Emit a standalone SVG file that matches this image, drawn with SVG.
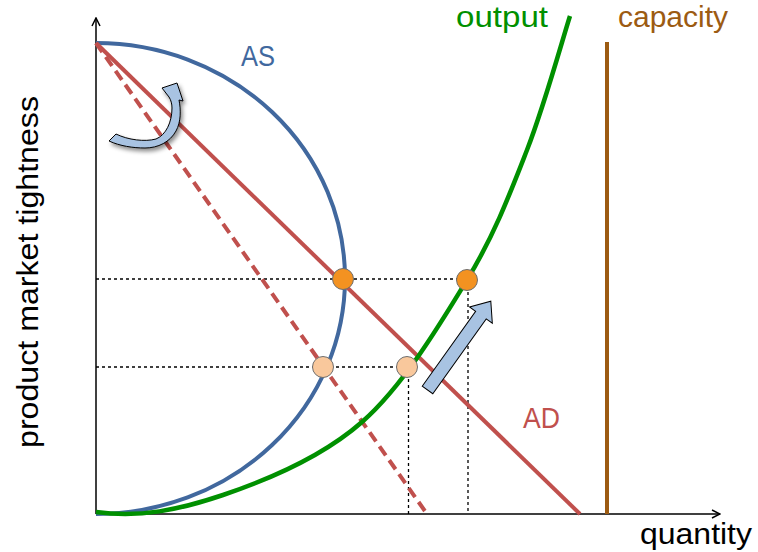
<svg xmlns="http://www.w3.org/2000/svg" width="758" height="552" viewBox="0 0 758 552">
<style>
.lbl{font-family:"Liberation Sans",Arial,sans-serif;font-size:29px}
.axis{stroke:#000;stroke-width:1.5;fill:none}
.dot{stroke:#000;stroke-width:1.3;stroke-dasharray:3 3;fill:none}
.pt{stroke:#6e6e6e;stroke-width:1}
.hi{fill:#F39221}
.lo{fill:#F9C89C}
.blk{fill:#A8C3E2;stroke:#000;stroke-width:1;stroke-linejoin:miter}
</style>
<defs>
<marker id="ah" viewBox="0 0 10 10" refX="9" refY="5" markerWidth="10" markerHeight="10" markerUnits="userSpaceOnUse" orient="auto">
<path d="M1,1 L9,5 L1,9" fill="none" stroke="#000" stroke-width="1.5"/>
</marker>
<filter id="sh" x="-30%" y="-30%" width="160%" height="160%">
<feDropShadow dx="2" dy="3" stdDeviation="2" flood-color="#000" flood-opacity="0.45"/>
</filter>
</defs>
<rect width="758" height="552" fill="#fff"/>
<g id="axes">
<line class="axis" x1="96" y1="514" x2="96" y2="18" marker-end="url(#ah)"/>
<line class="axis" x1="96" y1="514" x2="720" y2="514" marker-end="url(#ah)"/>
</g>
<g id="connectors">
<path class="dot" d="M96,279 H467 M96,367 H407 M408.5,367 V514 M468,280 V514"/>
<path id="as-curve" d="M96,43 A249,235.5 0 0 1 96,514" fill="none" stroke="#41689E" stroke-width="4"/>
<line id="ad-line" x1="96" y1="43" x2="580" y2="514" stroke="#C0504D" stroke-width="4"/>
<line id="ad-dashed" x1="96" y1="43" x2="427" y2="514" stroke="#C0504D" stroke-width="4" stroke-dasharray="11 6"/>
<path id="output-curve" d="M96,512 C140,518 178.7,510 223,495 C267.3,480 321.3,457.8 362,422 C402.7,386.2 439.5,325.3 467,280 C494.5,234.7 509.8,194 527,150 C544.2,106 562.8,38.3 570,16" fill="none" stroke="#009000" stroke-width="4.5"/>
<line id="capacity-line" x1="607" y1="42" x2="607" y2="514" stroke="#9C5B12" stroke-width="4"/>
</g>
<g id="points">
<circle class="pt hi" cx="343" cy="279" r="10.5"/>
<circle class="pt hi" cx="467" cy="280" r="10.5"/>
<circle class="pt lo" cx="323" cy="367" r="10.5"/>
<circle class="pt lo" cx="407" cy="367" r="10.5"/>
</g>
<g id="shift-arrow">
<polygon class="blk" transform="translate(427.5,390) rotate(-54.5)" points="0,-6.5 92,-6.5 92,-14 109,0 92,14 92,6.5 0,6.5"/>
</g>
<g id="rotate-arrow">
<path class="blk" filter="url(#sh)" d="M109,141 L116,134 C128,140 145,142 156,139 C166,135 172,122 172,108 C172,104 171,100 169,97 L162,88 L177,83 L183,101 L179,100 C181,110 181,122 176,131 C170,142 158,148 145,148 C133,148 120,146 109,141 Z"/>
</g>
<g id="labels">
<text class="lbl" x="241" y="66" fill="#41689E" textLength="34" lengthAdjust="spacingAndGlyphs">AS</text>
<text class="lbl" x="523" y="428" fill="#C0504D" textLength="37" lengthAdjust="spacingAndGlyphs">AD</text>
<text class="lbl" x="456" y="27" fill="#009000" textLength="92" lengthAdjust="spacingAndGlyphs">output</text>
<text class="lbl" x="618" y="27" fill="#9C5B12" textLength="110" lengthAdjust="spacingAndGlyphs">capacity</text>
<text class="lbl" x="640" y="544" fill="#000" textLength="112" lengthAdjust="spacingAndGlyphs">quantity</text>
<text class="lbl" transform="translate(37.5,448) rotate(-90)" x="0" y="0" fill="#000" textLength="352" lengthAdjust="spacingAndGlyphs">product market tightness</text>
</g>
</svg>
